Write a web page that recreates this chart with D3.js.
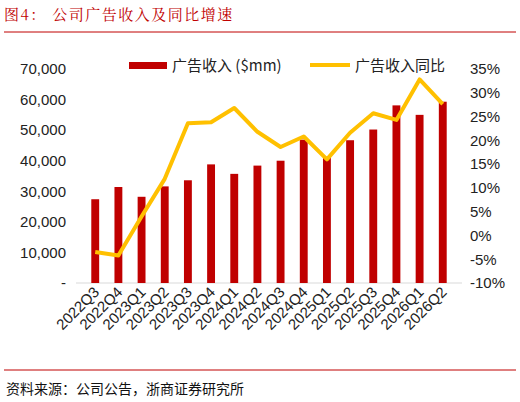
<!DOCTYPE html>
<html><head><meta charset="utf-8">
<script src="https://cdn.jsdelivr.net/npm/d3@7"></script>
<style>body{margin:0;background:#fff}</style></head>
<body><svg id="c" width="520" height="402"></svg>
<script>
const categories=["2022Q3","2022Q4","2023Q1","2023Q2","2023Q3","2023Q4","2024Q1","2024Q2","2024Q3","2024Q4","2025Q1","2025Q2","2025Q3","2025Q4","2026Q1","2026Q2"];
const revenue=[27400,31400,28200,31600,33600,38800,35700,38400,40000,46900,41300,46700,50200,58100,55000,59300];
const yoy=[-3.5,-4.2,4.0,11.9,23.6,23.8,26.8,21.8,18.6,20.8,16.0,21.6,25.7,24.3,32.8,27.6];
const leftTicks=[0,10000,20000,30000,40000,50000,60000,70000];
const rightTicks=[-10,-5,0,5,10,15,20,25,30,35];
const svg=d3.select("#c");
const cn="'Noto Sans CJK SC',sans-serif";
svg.append("text").attr("x",4).attr("y",20).attr("fill","#c00000").attr("font-family","'Noto Serif CJK SC','Noto Sans CJK SC',serif").attr("font-size",15).attr("letter-spacing",1.5).text("图4：  公司广告收入及同比增速");
svg.append("line").attr("x1",4).attr("x2",516).attr("y1",32).attr("y2",32).attr("stroke","#c00000").attr("stroke-width",1);
svg.append("line").attr("x1",4).attr("x2",516).attr("y1",370).attr("y2",370).attr("stroke","#c00000").attr("stroke-width",1);
svg.append("text").attr("x",6).attr("y",394).attr("font-family",cn).attr("font-size",14).attr("fill","#111").text("资料来源：公司公告，浙商证券研究所");
const x=d3.scaleBand().domain(categories).range([76,462]).padding(0.66);
const yL=d3.scaleLinear().domain([0,70000]).range([283,69]);
const yR=d3.scaleLinear().domain([-10,35]).range([283,69]);
svg.append("line").attr("x1",76).attr("x2",462).attr("y1",283).attr("y2",283).attr("stroke","#d9d9d9");
const gl=svg.append("g").attr("transform","translate(66,0)").call(d3.axisLeft(yL).tickValues(leftTicks).tickSize(0).tickPadding(0).tickFormat(d=>d===0?"-":d3.format(",")(d)));
const gr=svg.append("g").attr("transform","translate(470,0)").call(d3.axisRight(yR).tickValues(rightTicks).tickSize(0).tickPadding(0).tickFormat(d=>d+"%"));
[gl,gr].forEach(g=>{g.select(".domain").remove();g.selectAll("text").attr("font-family","Arial,'Liberation Sans',sans-serif").attr("font-size",15).attr("fill","#222");});
svg.selectAll("rect.b").data(revenue).join("rect").attr("x",(d,i)=>x(categories[i])).attr("width",x.bandwidth()).attr("y",d=>yL(d)).attr("height",d=>283-yL(d)).attr("fill","#c00000");
svg.append("path").datum(yoy).attr("fill","none").attr("stroke","#ffc000").attr("stroke-width",4).attr("stroke-linejoin","round")
 .attr("d",d3.line().x((d,i)=>x(categories[i])+x.bandwidth()/2).y(d=>yR(d)));
categories.forEach(c=>{const cx=x(c)+x.bandwidth()/2+5;
 svg.append("text").attr("transform",`translate(${cx},293) rotate(-45)`).attr("text-anchor","end").attr("font-family","Arial,'Liberation Sans',sans-serif").attr("font-size",15).attr("fill","#222").text(c);});
svg.append("rect").attr("x",129).attr("y",62).attr("width",38).attr("height",7).attr("fill","#c00000");
svg.append("text").attr("x",172).attr("y",71).attr("font-family",cn).attr("font-size",15).attr("fill","#222").text("广告收入 ($mm)");
svg.append("line").attr("x1",310).attr("x2",350).attr("y1",65).attr("y2",65).attr("stroke","#ffc000").attr("stroke-width",4);
svg.append("text").attr("x",355).attr("y",71).attr("font-family",cn).attr("font-size",15).attr("fill","#222").text("广告收入同比");
</script></body></html>
